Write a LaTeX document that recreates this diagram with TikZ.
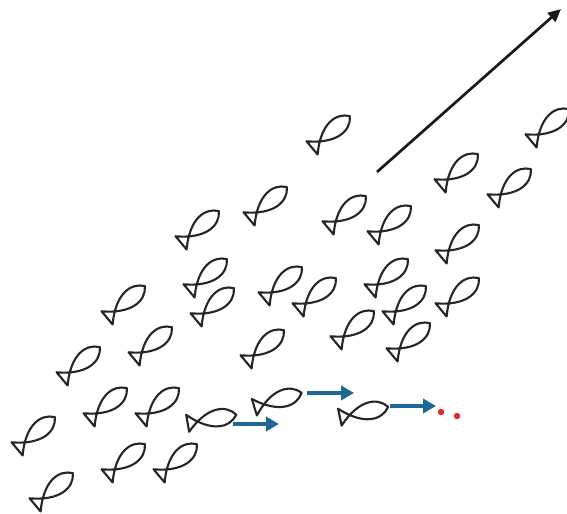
\documentclass[tikz,border=0pt]{standalone}
\usepackage{tikz}
\usetikzlibrary{%
  arrows.meta%
}
\definecolor{swimblue}{RGB}{31,104,150}
\definecolor{dotred}{RGB}{232,40,40}
\tikzset{
	fish/.pic={
		\draw[fishline] (24.7,0) .. controls (16,12) and (-3,13) .. (-24.7,-8.6)
			-- (-24.7,8.6) .. controls (-3,-13) and (16,-12) .. cycle;
	}
}

\begin{document}
\begin{tikzpicture}[x=0.03cm,y=-0.03cm,
		fishline/.style={line width=1.8pt,line join=round,black!85},
		heading/.style={line width=2.3pt,black!90,-{Triangle[length=11pt,width=10pt]}},
		swim/.style={line width=3pt,swimblue,-{Triangle[length=11pt,width=12pt]}},
		dot/.style={circle,fill=dotred,inner sep=0pt,minimum size=5.5pt}]
		\useasboundingbox (0,0) rectangle (567,514);
		%
		\pic[rotate=40] (f01) at (331,132) {fish};
		\pic[rotate=40] (f02) at (550,125) {fish};
		\pic[rotate=40] (f03) at (459,170) {fish};
		\pic[rotate=40] (f04) at (512,185) {fish};
		\pic[rotate=40] (f05) at (268,203) {fish};
		\pic[rotate=40] (f06) at (347,212) {fish};
		\pic[rotate=40] (f07) at (392,222) {fish};
		\pic[rotate=40] (f08) at (200,227) {fish};
		\pic[rotate=40] (f09) at (460,241) {fish};
		\pic[rotate=40] (f10) at (208,275) {fish};
		\pic[rotate=40] (f11) at (283,283) {fish};
		\pic[rotate=40] (f12) at (317,294) {fish};
		\pic[rotate=40] (f13) at (389,275) {fish};
		\pic[rotate=40] (f14) at (407,302) {fish};
		\pic[rotate=40] (f15) at (460,294) {fish};
		\pic[rotate=40] (f16) at (215,304) {fish};
		\pic[rotate=40] (f17) at (126,302) {fish};
		\pic[rotate=40] (f18) at (153,343) {fish};
		\pic[rotate=40] (f19) at (265,346) {fish};
		\pic[rotate=40] (f20) at (355,327) {fish};
		\pic[rotate=40] (f21) at (411,339) {fish};
		\pic[rotate=40] (f22) at (81,363) {fish};
		\pic[rotate=40] (f23) at (108,404) {fish};
		\pic[rotate=40] (f24) at (160,404) {fish};
		\pic[rotate=40] (f25) at (36,433) {fish};
		\pic[rotate=40] (f26) at (126,460) {fish};
		\pic[rotate=40] (f27) at (178,460) {fish};
		\pic[rotate=40] (f28) at (54,489) {fish};
		%Fish swimming off to the right
		\pic[rotate=10] (r1) at (212,419) {fish};
		\pic[rotate=17] (r2) at (278,400) {fish};
		\pic[rotate=12] (r3) at (364,412) {fish};
		%
		\coordinate (h0) at (377,172);
		\coordinate (h1) at (561,9);
		\coordinate (s1) at (233,424);
		\coordinate (t1) at (279,424);
		\coordinate (s2) at (307,393);
		\coordinate (t2) at (354,393);
		\coordinate (s3) at (390,406);
		\coordinate (t3) at (436,406);
		\node[dot] (d1) at (441,412) {};
		\node[dot] (d2) at (457,416) {};
		%
		\draw[heading] (h0) -- (h1);
		\draw[swim] (s1) -- (t1);
		\draw[swim] (s2) -- (t2);
		\draw[swim] (s3) -- (t3);
		
	\end{tikzpicture}
\end{document}
